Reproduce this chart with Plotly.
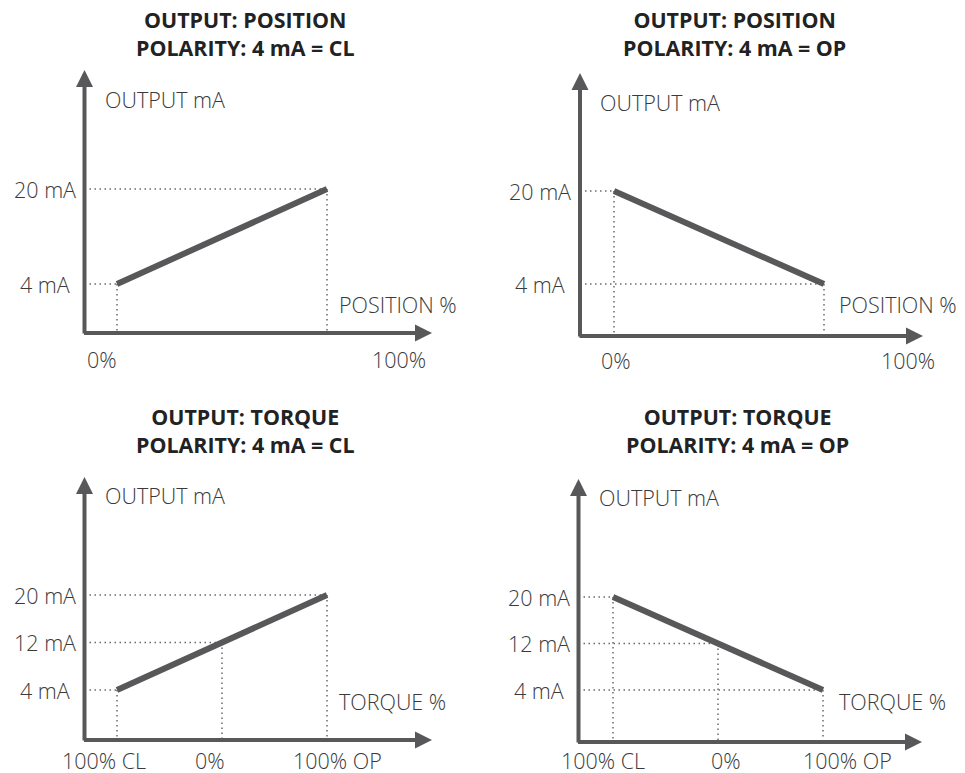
import plotly.graph_objects as go

PAGE_W, PAGE_H = 965, 773
OFF = 8  # default page body margin
W, H = PAGE_W - OFF, PAGE_H - OFF

# ---------------- data ----------------
titles = [
    "OUTPUT: POSITION<br>POLARITY: 4 mA = CL",
    "OUTPUT: POSITION<br>POLARITY: 4 mA = OP",
    "OUTPUT: TORQUE<br>POLARITY: 4 mA = CL",
    "OUTPUT: TORQUE<br>POLARITY: 4 mA = OP",
]
y_axis_title = "OUTPUT mA"
x_axis_titles = ["POSITION %", "POSITION %", "TORQUE %", "TORQUE %"]

position_pct = [0, 100]
position_cl_ma = [4, 20]
position_op_ma = [20, 4]

torque_pct = [-100, 0, 100]
torque_cl_ma = [4, 12, 20]
torque_op_ma = [20, 12, 4]

position_tick_vals = [0, 100]
position_tick_text = ["0%", "100%"]
torque_tick_vals = [-100, 0, 100]
torque_tick_text = ["100% CL", "0%", "100% OP"]

position_ma_ticks = [20, 4]
position_ma_text = ["20 mA", "4 mA"]
torque_ma_ticks = [20, 12, 4]
torque_ma_text = ["20 mA", "12 mA", "4 mA"]

# ---------------- style / layout ----------------
LINE_C = "#58585a"
AXIS_C = "#58585a"
GUIDE_C = "#6a6a6a"
TEXT_C = "#3a3a3a"
TITLE_C = "#222222"
FONT = "Open Sans"
LAB_SIZE = 21.5
TITLE_SIZE = 21.4

# pixel layout of each panel (page pixels): axis origin, arrow tips, pixel anchors of the data extent
panels = [
    dict(x=position_pct, y=position_cl_ma, xt=position_tick_vals, xtt=position_tick_text,
         yt=position_ma_ticks, ytt=position_ma_text,
         ox=84.5, oy=333, tipx=432, tipy=70, xpx=(117, 327), ypx=(284, 189),
         xshift=[-15, 72], xlab_dy=-26, ylab_dy=-29, xt_dx=10, xt_dy=28.5,
         title_x=245, title_y=33.5),
    dict(x=position_pct, y=position_op_ma, xt=position_tick_vals, xtt=position_tick_text,
         yt=position_ma_ticks, ytt=position_ma_text,
         ox=580, oy=336, tipx=923, tipy=73, xpx=(614, 824), ypx=(284, 191),
         xshift=[2, 84], xlab_dy=-24, ylab_dy=-29, xt_dx=13, xt_dy=32,
         title_x=734, title_y=33.5),
    dict(x=torque_pct, y=torque_cl_ma, xt=torque_tick_vals, xtt=torque_tick_text,
         yt=torque_ma_ticks, ytt=torque_ma_text,
         ox=84.5, oy=740, tipx=432, tipy=477, xpx=(117, 327), ypx=(690, 595),
         xshift=[-13, -12, 10], xlab_dy=-20, ylab_dy=-18.5, xt_dx=10, xt_dy=39,
         title_x=245, title_y=430),
    dict(x=torque_pct, y=torque_op_ma, xt=torque_tick_vals, xtt=torque_tick_text,
         yt=torque_ma_ticks, ytt=torque_ma_text,
         ox=578.5, oy=742, tipx=922, tipy=479, xpx=(613, 823), ypx=(690, 597),
         xshift=[-10, 8, 24], xlab_dy=-18, ylab_dy=-18.5, xt_dx=14, xt_dy=40.5,
         title_x=737, title_y=430),
]


def fx(px):
    return (px - OFF) / W


def fy(py):
    return 1 - (py - OFF) / H


fig = go.Figure()
annotations = []
layout_axes = {}

for i, p in enumerate(panels):
    n = "" if i == 0 else str(i + 1)
    xa, ya = "x" + n, "y" + n
    xs, ys = p["x"], p["y"]
    xlo, xhi = min(xs), max(xs)
    bx = (p["xpx"][1] - p["xpx"][0]) / (xhi - xlo)
    xmin = xlo - (p["xpx"][0] - p["ox"]) / bx
    xmax = xlo + (p["tipx"] - p["xpx"][0]) / bx
    by = (p["ypx"][0] - p["ypx"][1]) / (20 - 4)
    ymin = 4 - (p["oy"] - p["ypx"][0]) / by
    ymax = 4 + (p["ypx"][0] - p["tipy"]) / by

    layout_axes["xaxis" + n] = dict(domain=[fx(p["ox"]), fx(p["tipx"])], range=[xmin, xmax],
                                    visible=False, anchor=ya, fixedrange=True)
    layout_axes["yaxis" + n] = dict(domain=[fy(p["oy"]), fy(p["tipy"])], range=[ymin, ymax],
                                    visible=False, anchor=xa, fixedrange=True)

    # dotted guides
    gx, gy = [], []
    for xv, yv in zip(xs, ys):
        gx += [xmin, xv, None, xv, xv, None]
        gy += [yv, yv, None, yv, ymin, None]
    fig.add_trace(go.Scatter(x=gx, y=gy, mode="lines", xaxis=xa, yaxis=ya,
                             line=dict(color=GUIDE_C, width=1.5, dash="1.5px,3.5px"),
                             hoverinfo="skip", showlegend=False))
    # main line
    fig.add_trace(go.Scatter(x=xs, y=ys, mode="lines", xaxis=xa, yaxis=ya,
                             line=dict(color=LINE_C, width=6), showlegend=False))

    # axis arrows
    annotations.append(dict(xref=xa, yref=ya, axref=xa, ayref=ya,
                            x=xmax, y=ymin, ax=xmin - 2 / bx, ay=ymin, text="",
                            showarrow=True, arrowhead=2, arrowsize=0.85, arrowwidth=4,
                            arrowcolor=AXIS_C, standoff=0))
    annotations.append(dict(xref=xa, yref=ya, axref=xa, ayref=ya,
                            x=xmin, y=ymax, ax=xmin, ay=ymin - 2 / by, text="",
                            showarrow=True, arrowhead=2, arrowsize=0.85, arrowwidth=4,
                            arrowcolor=AXIS_C, standoff=0))

    lab_font = dict(family=FONT, size=LAB_SIZE, color=TEXT_C, weight=300)
    # x tick labels
    for tv, tt, sh in zip(p["xt"], p["xtt"], p["xshift"]):
        annotations.append(dict(xref=xa, yref=ya, x=tv, y=ymin, text=tt, showarrow=False,
                                xanchor="center", yanchor="middle", xshift=sh,
                                yshift=p["xlab_dy"], font=lab_font))
    # y tick labels
    for tv, tt in zip(p["yt"], p["ytt"]):
        annotations.append(dict(xref=xa, yref=ya, x=xmin, y=tv, text=tt, showarrow=False,
                                xanchor="center", yanchor="middle", xshift=-40,
                                font=lab_font))
    # axis titles
    annotations.append(dict(xref=xa, yref=ya, x=xmin, y=ymax, text=y_axis_title, showarrow=False,
                            xanchor="left", yanchor="middle", xshift=18,
                            yshift=p["ylab_dy"], font=lab_font))
    annotations.append(dict(xref=xa, yref=ya, x=xhi, y=ymin, text=x_axis_titles[i], showarrow=False,
                            xanchor="left", yanchor="middle", xshift=p["xt_dx"],
                            yshift=p["xt_dy"], font=lab_font))
    # panel title
    annotations.append(dict(xref="paper", yref="paper", x=fx(p["title_x"]), y=fy(p["title_y"]),
                            text=titles[i], showarrow=False, xanchor="center", yanchor="middle",
                            font=dict(family=FONT, size=TITLE_SIZE, color=TITLE_C, weight=700)))

fig.update_layout(width=W, height=H, autosize=False,
                  margin=dict(l=0, r=0, t=0, b=0),
                  paper_bgcolor="white", plot_bgcolor="rgba(0,0,0,0)",
                  showlegend=False, annotations=annotations, **layout_axes)

fig.write_html("out.html")
